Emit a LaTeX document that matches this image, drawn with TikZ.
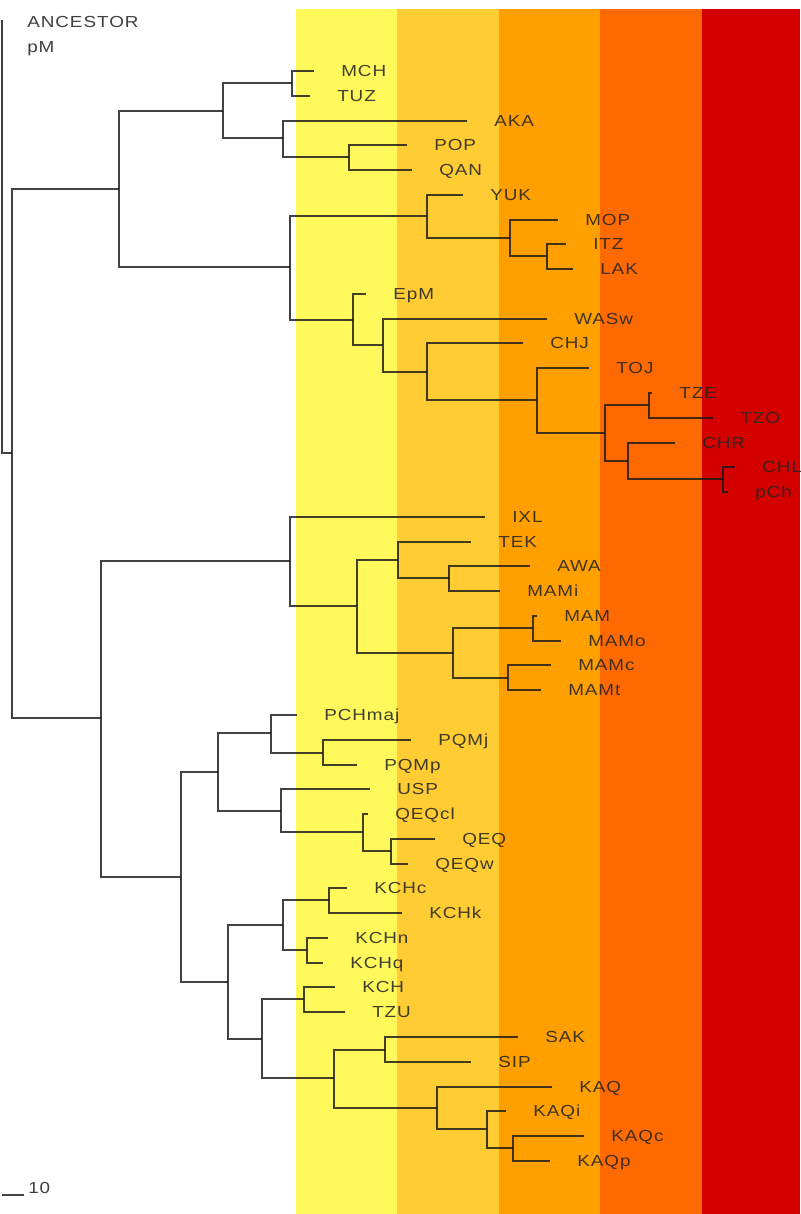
\documentclass[tikz,border=0pt]{standalone}
\usepackage{fontspec}
\setmainfont{Liberation Sans}[FakeStretch=1.18,LetterSpace=6]
\definecolor{bandA}{HTML}{FFF95B}
\definecolor{bandB}{HTML}{FFCC33}
\definecolor{bandC}{HTML}{FF9F00}
\definecolor{bandD}{HTML}{FF6A00}
\definecolor{bandE}{HTML}{D40000}
\newcommand\leafnode[4]{%
  \coordinate (t-#1) at ({#2},{round(71+24.77*(#3-1))});
  \node[lab] (#1) at ({#2+27},{round(71+24.77*(#3-1))+5.8}) {#4};}
\newcommand\edgeto[2]{\draw[br] (#1) |- (#2);}
\begin{document}
\begin{tikzpicture}[x=0.75pt,y=-0.75pt,
  br/.style={line width=1.5pt, draw=black!90, draw opacity=0.82},
  lab/.style={anchor=base west, inner sep=0pt, text=black!85, text opacity=0.88,
    font=\fontsize{12}{14}\selectfont}]
\useasboundingbox (0,0) rectangle (800,1214);
\clip (0,0) rectangle (800,1214);
\fill[white] (0,0) rectangle (800,1214);
% colour bands
\fill[bandA] (296,9) rectangle (397,1214);
\fill[bandB] (397,9) rectangle (499,1214);
\fill[bandC] (499,9) rectangle (600,1214);
\fill[bandD] (600,9) rectangle (702,1214);
\fill[bandE] (702,9) rectangle (800,1214);
% ancestor
\coordinate (anc) at (2,20);
\node[lab] (ancA) at (27,27.8) {ANCESTOR};
\node[lab] (ancB) at (27,52.8) {pM};
% leaves
\leafnode{MCH}{314}{1}{MCH}
\leafnode{TUZ}{310}{2}{TUZ}
\leafnode{AKA}{467}{3}{AKA}
\leafnode{POP}{407}{4}{POP}
\leafnode{QAN}{412}{5}{QAN}
\leafnode{YUK}{463}{6}{YUK}
\leafnode{MOP}{558}{7}{MOP}
\leafnode{ITZ}{566}{8}{ITZ}
\leafnode{LAK}{573}{9}{LAK}
\leafnode{EpM}{366}{10}{EpM}
\leafnode{WASw}{547}{11}{WASw}
\leafnode{CHJ}{523}{12}{CHJ}
\leafnode{TOJ}{589}{13}{TOJ}
\leafnode{TZE}{652}{14}{TZE}
\leafnode{TZO}{713}{15}{TZO}
\leafnode{CHR}{675}{16}{CHR}
\leafnode{CHL}{735}{17}{CHL}
\leafnode{pCh}{728}{18}{pCh}
\leafnode{IXL}{485}{19}{IXL}
\leafnode{TEK}{471}{20}{TEK}
\leafnode{AWA}{530}{21}{AWA}
\leafnode{MAMi}{500}{22}{MAMi}
\leafnode{MAM}{537}{23}{MAM}
\leafnode{MAMo}{561}{24}{MAMo}
\leafnode{MAMc}{551}{25}{MAMc}
\leafnode{MAMt}{541}{26}{MAMt}
\leafnode{PCHmaj}{297}{27}{PCHmaj}
\leafnode{PQMj}{411}{28}{PQMj}
\leafnode{PQMp}{357}{29}{PQMp}
\leafnode{USP}{370}{30}{USP}
\leafnode{QEQcl}{368}{31}{QEQcl}
\leafnode{QEQ}{435}{32}{QEQ}
\leafnode{QEQw}{408}{33}{QEQw}
\leafnode{KCHc}{347}{34}{KCHc}
\leafnode{KCHk}{402}{35}{KCHk}
\leafnode{KCHn}{328}{36}{KCHn}
\leafnode{KCHq}{323}{37}{KCHq}
\leafnode{KCH}{335}{38}{KCH}
\leafnode{TZU}{345}{39}{TZU}
\leafnode{SAK}{518}{40}{SAK}
\leafnode{SIP}{471}{41}{SIP}
\leafnode{KAQ}{552}{42}{KAQ}
\leafnode{KAQi}{506}{43}{KAQi}
\leafnode{KAQc}{584}{44}{KAQc}
\leafnode{KAQp}{550}{45}{KAQp}
% internal nodes
\coordinate (n0) at (12,453);
\coordinate (nA) at (119,189);
\coordinate (nB) at (223,111);
\coordinate (nMT) at (292,83);
\coordinate (nAk) at (283,138);
\coordinate (nPQ) at (349,157);
\coordinate (nC) at (290,267);
\coordinate (nY) at (427,216);
\coordinate (nMo) at (510,238);
\coordinate (nIL) at (547,256);
\coordinate (nD) at (353,320);
\coordinate (nE) at (383,345);
\coordinate (nF) at (427,372);
\coordinate (nG) at (537,400);
\coordinate (nH) at (605,433);
\coordinate (nTz) at (649,405);
\coordinate (nCh) at (628,461);
\coordinate (nCl) at (723,479);
\coordinate (nL) at (101,718);
\coordinate (nI) at (290,561);
\coordinate (nJ) at (357,606);
\coordinate (nK) at (398,560);
\coordinate (nAw) at (449,578);
\coordinate (nLm) at (453,653);
\coordinate (nMa) at (533,628);
\coordinate (nMc) at (508,678);
\coordinate (nM) at (181,877);
\coordinate (nN) at (218,772);
\coordinate (nPc) at (271,733);
\coordinate (nPQM) at (323,753);
\coordinate (nU) at (281,811);
\coordinate (nQ) at (363,832);
\coordinate (nQE) at (391,851);
\coordinate (nO) at (228,982);
\coordinate (nP) at (283,925);
\coordinate (nKc) at (329,900);
\coordinate (nKn) at (307,950);
\coordinate (nQq) at (262,1039);
\coordinate (nKT) at (304,999);
\coordinate (nR) at (334,1078);
\coordinate (nSS) at (385,1050);
\coordinate (nS) at (437,1108);
\coordinate (nT) at (487,1129);
\coordinate (nKp) at (513,1148);
% branches
\edgeto{anc}{n0}
\edgeto{n0}{nA}\edgeto{n0}{nL}
\edgeto{nA}{nB}\edgeto{nA}{nC}
\edgeto{nB}{nMT}\edgeto{nB}{nAk}
\edgeto{nMT}{t-MCH}\edgeto{nMT}{t-TUZ}
\edgeto{nAk}{t-AKA}\edgeto{nAk}{nPQ}
\edgeto{nPQ}{t-POP}\edgeto{nPQ}{t-QAN}
\edgeto{nC}{nY}\edgeto{nC}{nD}
\edgeto{nY}{t-YUK}\edgeto{nY}{nMo}
\edgeto{nMo}{t-MOP}\edgeto{nMo}{nIL}
\edgeto{nIL}{t-ITZ}\edgeto{nIL}{t-LAK}
\edgeto{nD}{t-EpM}\edgeto{nD}{nE}
\edgeto{nE}{t-WASw}\edgeto{nE}{nF}
\edgeto{nF}{t-CHJ}\edgeto{nF}{nG}
\edgeto{nG}{t-TOJ}\edgeto{nG}{nH}
\edgeto{nH}{nTz}\edgeto{nH}{nCh}
\edgeto{nTz}{t-TZE}\edgeto{nTz}{t-TZO}
\edgeto{nCh}{t-CHR}\edgeto{nCh}{nCl}
\edgeto{nCl}{t-CHL}\edgeto{nCl}{t-pCh}
\edgeto{nL}{nI}\edgeto{nL}{nM}
\edgeto{nI}{t-IXL}\edgeto{nI}{nJ}
\edgeto{nJ}{nK}\edgeto{nJ}{nLm}
\edgeto{nK}{t-TEK}\edgeto{nK}{nAw}
\edgeto{nAw}{t-AWA}\edgeto{nAw}{t-MAMi}
\edgeto{nLm}{nMa}\edgeto{nLm}{nMc}
\edgeto{nMa}{t-MAM}\edgeto{nMa}{t-MAMo}
\edgeto{nMc}{t-MAMc}\edgeto{nMc}{t-MAMt}
\edgeto{nM}{nN}\edgeto{nM}{nO}
\edgeto{nN}{nPc}\edgeto{nN}{nU}
\edgeto{nPc}{t-PCHmaj}\edgeto{nPc}{nPQM}
\edgeto{nPQM}{t-PQMj}\edgeto{nPQM}{t-PQMp}
\edgeto{nU}{t-USP}\edgeto{nU}{nQ}
\edgeto{nQ}{t-QEQcl}\edgeto{nQ}{nQE}
\edgeto{nQE}{t-QEQ}\edgeto{nQE}{t-QEQw}
\edgeto{nO}{nP}\edgeto{nO}{nQq}
\edgeto{nP}{nKc}\edgeto{nP}{nKn}
\edgeto{nKc}{t-KCHc}\edgeto{nKc}{t-KCHk}
\edgeto{nKn}{t-KCHn}\edgeto{nKn}{t-KCHq}
\edgeto{nQq}{nKT}\edgeto{nQq}{nR}
\edgeto{nKT}{t-KCH}\edgeto{nKT}{t-TZU}
\edgeto{nR}{nSS}\edgeto{nR}{nS}
\edgeto{nSS}{t-SAK}\edgeto{nSS}{t-SIP}
\edgeto{nS}{t-KAQ}\edgeto{nS}{nT}
\edgeto{nT}{t-KAQi}\edgeto{nT}{nKp}
\edgeto{nKp}{t-KAQc}\edgeto{nKp}{t-KAQp}
% scale bar
\coordinate (s0) at (2,1195);
\coordinate (s1) at (24,1195);
\draw[br] (s0) -- (s1);
\node[lab] (scale) at (28,1193) {10};
\end{tikzpicture}
\end{document}
